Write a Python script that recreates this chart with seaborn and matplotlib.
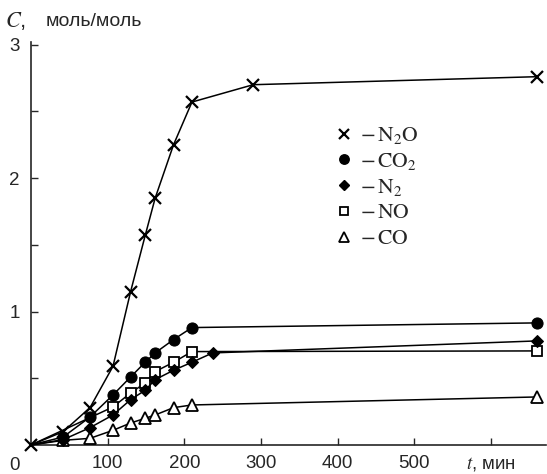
import matplotlib
matplotlib.use("Agg")
import matplotlib.pyplot as plt
import seaborn as sns
import numpy as np
from matplotlib.lines import Line2D

# Data (time in minutes, concentration in mol/mol)
t_n2o = [0, 42, 77, 107, 130, 149, 162, 186, 210, 290, 660]
c_n2o = [0, 0.10, 0.28, 0.59, 1.15, 1.57, 1.85, 2.25, 2.57, 2.70, 2.76]

t_co2 = [0, 42, 77, 107, 130, 149, 162, 186, 210, 660]
c_co2 = [0, 0.06, 0.21, 0.375, 0.51, 0.62, 0.69, 0.79, 0.88, 0.915]

t_n2 = [0, 42, 77, 107, 130, 149, 162, 186, 210, 237, 660]
c_n2 = [0, 0.04, 0.13, 0.225, 0.34, 0.41, 0.49, 0.56, 0.62, 0.69, 0.78]

t_no = [0, 107, 130, 149, 162, 186, 210, 660]
c_no = [0, 0.285, 0.39, 0.465, 0.55, 0.62, 0.70, 0.705]

t_co = [0, 42, 77, 107, 130, 149, 162, 186, 210, 660]
c_co = [0, 0.035, 0.05, 0.11, 0.165, 0.20, 0.225, 0.28, 0.30, 0.36]

labels = [r"$-\,\mathrm{N_2O}$", r"$-\,\mathrm{CO_2}$", r"$-\,\mathrm{N_2}$",
          r"$-\,\mathrm{NO}$", r"$-\,\mathrm{CO}$"]
xtick_vals = [100, 200, 300, 400, 500, 600]
xtick_labels = ["100", "200", "300", "400", "500", r"$t$, мин"]
ytick_vals = [1, 2, 3]
ytick_labels = ["1", "2", "3"]

sns.set_style("ticks")
plt.rcParams["font.family"] = ["Liberation Sans", "DejaVu Sans"]
plt.rcParams["mathtext.fontset"] = "stix"

fig = plt.figure(figsize=(5.47, 4.74), dpi=100)
ax = fig.add_axes([31 / 547, 1 - 445 / 474, (546 - 31) / 547, (445 - 42) / 474])

series = [
    (t_n2o, c_n2o, "x", dict(markersize=8, markeredgewidth=1.6, markerfacecolor="black")),
    (t_co2, c_co2, "o", dict(markersize=8, markerfacecolor="black")),
    (t_n2, c_n2, "D", dict(markersize=6.5, markerfacecolor="black")),
    (t_no, c_no, "s", dict(markersize=7.5, markerfacecolor="white", markeredgewidth=1.3)),
    (t_co, c_co, "^", dict(markersize=8, markerfacecolor="white", markeredgewidth=1.3)),
]

handles = []
for i, (t, c, m, kw) in enumerate(series):
    me = list(range(0, len(t))) if i == 0 else list(range(1, len(t)))
    sns.lineplot(x=t, y=c, ax=ax, color="black", linewidth=1.1, marker=m,
                 markeredgecolor="black", markevery=me, zorder=3 + (5 - i),
                 clip_on=False, **kw)
    handles.append(Line2D([], [], linestyle="none", marker=m, color="black",
                          markeredgecolor="black",
                          **{k: (v * 0.85 if k == "markersize" else v) for k, v in kw.items()}))

ax.set_xlim(0, 672)
ax.set_ylim(0, 3.02)
ax.set_xticks(xtick_vals)
ax.set_xticklabels(xtick_labels)
ax.set_yticks(ytick_vals)
ax.set_yticklabels(ytick_labels)
ax.set_yticks([0.5, 1.5, 2.5], minor=True)
ax.tick_params(axis="both", which="both", direction="in", length=5, width=1, labelsize=13.5)
ax.tick_params(axis="x", pad=7)
ax.tick_params(axis="y", pad=8)
ax.tick_params(axis="y", which="minor", length=5)
for s in ["top", "right"]:
    ax.spines[s].set_visible(False)
for s in ["left", "bottom"]:
    ax.spines[s].set_linewidth(1.2)
ax.set_xlabel("")
ax.set_ylabel("")

leg = ax.legend(handles, labels, loc="upper left", bbox_to_anchor=(0.575, 0.815),
                frameon=False, fontsize=15.5, handlelength=0.8, handletextpad=0.35,
                labelspacing=0.22, borderaxespad=0)

fig.text(15 / 547, 1 - 466 / 474, "0", fontsize=13.5, ha="center", va="center")
fig.text(5 / 547, 1 - 21 / 474, r"$C$,", fontsize=16, ha="left", va="center")
fig.text(46 / 547, 1 - 21 / 474, "моль/моль", fontsize=14, ha="left", va="center")

fig.savefig("out.png", dpi=100)
